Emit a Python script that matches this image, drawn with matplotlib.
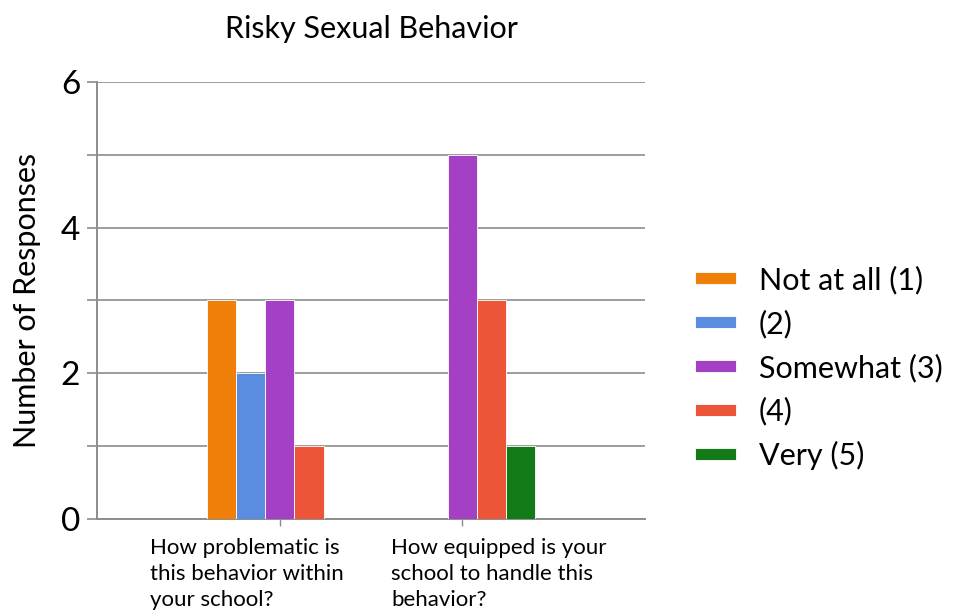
import matplotlib.pyplot as plt
import numpy as np

plt.rcParams['font.family'] = ['Lato', 'DejaVu Sans']

categorias = ["How problematic is\nthis behavior within\nyour school?",
              "How equipped is your\nschool to handle this\nbehavior?"]
series = ["Not at all (1)", "(2)", "Somewhat (3)", "(4)", "Very (5)"]
valores = [
    [3, 0],   # Not at all (1)
    [2, 0],   # (2)
    [3, 5],   # Somewhat (3)
    [1, 3],   # (4)
    [0, 1],   # Very (5)
]
colores = ['#f07f09', '#5a8de0', '#a340c4', '#ec5538', '#137a18']
y_ticks = [0, 2, 4, 6]

fig = plt.figure(figsize=(9.57, 6.11), dpi=100)
ax = fig.add_axes([0.1014, 0.1506, 0.5726, 0.7152])

x = np.arange(len(categorias))
ancho = 0.16
for i, (nombre, vals, col) in enumerate(zip(series, valores, colores)):
    ax.bar(x + (i - 2) * ancho, vals, width=ancho, color=col,
           edgecolor='white', linewidth=0.6, label=nombre, zorder=3)

ax.set_xlim(-1, 2)
ax.set_ylim(0, 6)
ax.set_yticks(range(0, 7))
ax.set_yticklabels([str(t) if t in y_ticks else '' for t in range(0, 7)], fontsize=24)
ax.yaxis.grid(True, color='#8c8c8c', linewidth=1.2, zorder=0)
ax.tick_params(axis='y', length=7, width=1.2, color='#8c8c8c', pad=5)
ax.set_xticks(x)
ax.set_xticklabels([])
ax.tick_params(axis='x', length=5, width=1, color='#8c8c8c')

for s in ['top', 'right']:
    ax.spines[s].set_visible(False)
for s in ['left', 'bottom']:
    ax.spines[s].set_color('#8c8c8c')
    ax.spines[s].set_linewidth(1.4)

# desplazamiento de cada etiqueta respecto a su categoria
desp = [-0.71, -0.39]
for xi, texto, d in zip(x, categorias, desp):
    ax.text(xi + d, -0.26, texto, ha='left', va='top', fontsize=16,
            linespacing=1.38)

ax.set_ylabel("Number of Responses", fontsize=22, labelpad=14)
ax.set_title("Risky Sexual Behavior", fontsize=22, pad=32)

fig.legend(loc='center left', bbox_to_anchor=(0.697, 0.398), frameon=False,
           fontsize=22, handlelength=1.35, handleheight=0.2, labelspacing=0.5,
           handletextpad=0.75)

fig.savefig('out.png', dpi=100)
